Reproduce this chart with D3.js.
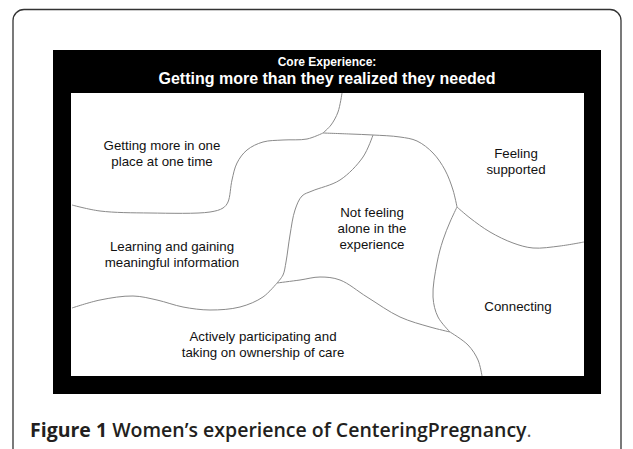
<!DOCTYPE html>
<html>
<head>
<meta charset="utf-8">
<script src="https://cdn.jsdelivr.net/npm/d3@7"></script>
<style>
  body { margin: 0; background: #fff; }
  svg { display: block; }
</style>
</head>
<body>
<div id="chart"></div>
<script>
// Diagram data (units are relative to the white inner panel, 513 x 283)
const headerSmall = "Core Experience:";
const headerLarge = "Getting more than they realized they needed";
const caption = ["Figure 1", " Women\u2019s experience of CenteringPregnancy", "."];

const themeLabels = [
  ["Getting more in one", "place at one time"],
  ["Feeling", "supported"],
  ["Not feeling", "alone in the", "experience"],
  ["Learning and gaining", "meaningful information"],
  ["Actively participating and", "taking on ownership of care"],
  ["Connecting"]
];
const labelCentres = [[91, 60], [445, 68], [301, 135], [101, 161], [192, 251], [447, 213]];

// boundaries between the theme regions
const topBoundary = [[271, 0], [267, 19], [260, 32], [252, 40]];
const gettingMoreEdge = [[1, 112], [29, 118], [79, 120], [139, 119], [152, 115], [157, 109], [161, 87], [166, 70], [176, 57], [192, 49], [212, 47], [236, 46], [252, 40]];
const notAloneTop = [[252, 40], [279, 41], [302, 42], [329, 44], [346, 48], [362, 60], [374, 77], [382, 97], [386, 114]];
const notAloneLeft = [[302, 42], [292, 64], [269, 87], [241, 98], [231, 103], [224, 117], [219, 142], [215, 169], [212, 182], [206, 190]];
const supportedEdge = [[386, 114], [399, 125], [419, 139], [442, 150], [462, 155], [489, 153], [513, 149]];
const connectingLeft = [[386, 114], [379, 129], [372, 147], [366, 170], [362, 204], [367, 224], [379, 239]];
const connectingBottom = [[379, 239], [397, 252], [407, 267], [411, 283]];
const activeTop = [[206, 190], [229, 187], [249, 184], [269, 187], [296, 204], [329, 224], [359, 234], [379, 239]];
const learningBottom = [[206, 190], [192, 204], [169, 214], [139, 217], [112, 214], [86, 207], [62, 203], [29, 207], [1, 215]];

const boundaries = [topBoundary, gettingMoreEdge, notAloneTop, notAloneLeft, supportedEdge,
  connectingLeft, connectingBottom, activeTop, learningBottom];

const width = 633, height = 449;
const outer = {x: 53, y: 50, w: 548, h: 344};
const inner = {x: 71, y: 93, w: 513, h: 283};

const svg = d3.select("#chart").append("svg")
  .attr("width", width)
  .attr("height", height);

// card frame
svg.append("rect")
  .attr("x", 13).attr("y", 9.5)
  .attr("width", 608).attr("height", 480)
  .attr("rx", 11)
  .attr("fill", "none")
  .attr("stroke", "#333")
  .attr("stroke-width", 1.3);

svg.append("rect")
  .attr("x", outer.x).attr("y", outer.y)
  .attr("width", outer.w).attr("height", outer.h)
  .attr("fill", "#000");

svg.append("rect")
  .attr("x", inner.x).attr("y", inner.y)
  .attr("width", inner.w).attr("height", inner.h)
  .attr("fill", "#fff");

const cx = outer.x + outer.w / 2;
svg.append("text")
  .attr("x", cx).attr("y", 66)
  .attr("text-anchor", "middle")
  .attr("font-family", "Liberation Sans, Arial, sans-serif")
  .attr("font-weight", "bold")
  .attr("font-size", 12)
  .attr("fill", "#fff")
  .text(headerSmall);

svg.append("text")
  .attr("x", cx).attr("y", 84)
  .attr("text-anchor", "middle")
  .attr("font-family", "Liberation Sans, Arial, sans-serif")
  .attr("font-weight", "bold")
  .attr("font-size", 16)
  .attr("fill", "#fff")
  .text(headerLarge);

// scales for the inner panel
const x = d3.scaleLinear().domain([0, 513]).range([inner.x, inner.x + inner.w]);
const y = d3.scaleLinear().domain([0, 283]).range([inner.y, inner.y + inner.h]);

const line = d3.line()
  .x(d => x(d[0]))
  .y(d => y(d[1]))
  .curve(d3.curveCatmullRom.alpha(0.5));

svg.append("g")
  .selectAll("path")
  .data(boundaries)
  .enter()
  .append("path")
  .attr("d", line)
  .attr("fill", "none")
  .attr("stroke", "#8a8a8a")
  .attr("stroke-width", 1);

// theme labels
const lineGap = 16;
const labels = svg.append("g")
  .selectAll("text")
  .data(themeLabels)
  .enter()
  .append("text")
  .attr("text-anchor", "middle")
  .attr("font-family", "Liberation Sans, Arial, sans-serif")
  .attr("font-size", 13.3)
  .attr("fill", "#111");

labels.each(function(d, i) {
  const c = labelCentres[i];
  const top = y(c[1]) - (d.length - 1) * lineGap / 2 + 4.5;
  d3.select(this).selectAll("tspan")
    .data(d)
    .enter()
    .append("tspan")
    .attr("x", x(c[0]))
    .attr("y", (t, j) => top + j * lineGap)
    .text(t => t);
});

// caption
const cap = svg.append("text")
  .attr("x", 30).attr("y", 437)
  .attr("font-family", "Open Sans, Noto Sans, sans-serif")
  .attr("font-size", 19.5)
  .attr("fill", "#231f20");
cap.append("tspan").attr("font-weight", 700).text(caption[0]);
cap.append("tspan").attr("font-weight", 600).text(caption[1]);
cap.append("tspan").attr("fill", "#555").text(caption[2]);
</script>
</body>
</html>
